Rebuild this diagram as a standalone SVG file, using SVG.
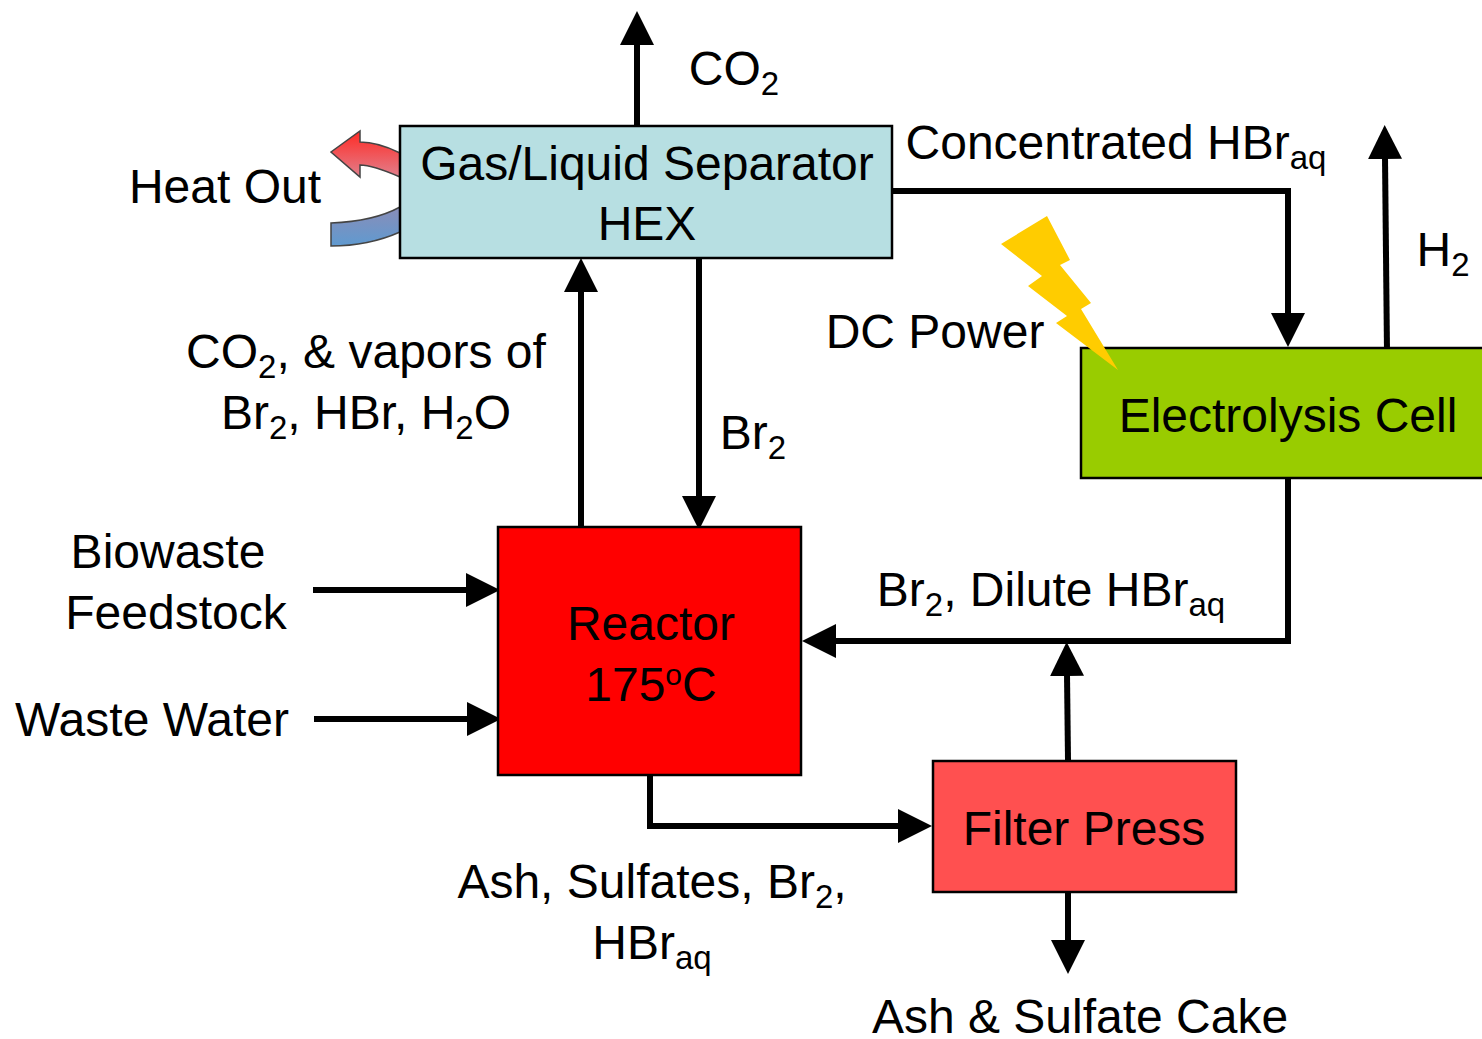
<svg xmlns="http://www.w3.org/2000/svg" width="1482" height="1039" viewBox="0 0 1482 1039">
<style>
text{font-family:"Liberation Sans",Arial,sans-serif;font-size:48px;fill:#000;text-anchor:middle}
.s{font-size:33px}
.b{stroke:#000;stroke-width:2.5px}
.c{fill:none;stroke:#000;stroke-width:6px}
</style>
<defs>
<linearGradient id="r" x1="0" y1="0" x2="0" y2="1"><stop offset="0" stop-color="#ff2a24"/><stop offset="1" stop-color="#e27f8c"/></linearGradient>
<linearGradient id="bl" x1="0" y1="0" x2="0" y2="1"><stop offset="0" stop-color="#8a8db8"/><stop offset="1" stop-color="#5f9ad0"/></linearGradient>
<marker id="a" markerUnits="userSpaceOnUse" markerWidth="36" markerHeight="36" refX="2" refY="17" orient="auto"><path d="M0 0L34 17L0 34Z" fill="#000"/></marker>
</defs>
<g id="connectors">
<path class="c" d="M637 127V43" marker-end="url(#a)"/>
<path class="c" d="M892 191H1288V315" marker-end="url(#a)"/>
<path class="c" d="M1387 352L1385 157" marker-end="url(#a)"/>
<path class="c" d="M581 527V290" marker-end="url(#a)"/>
<path class="c" d="M699 258V498" marker-end="url(#a)"/>
<path class="c" d="M1288 478V641H834" marker-end="url(#a)"/>
<path class="c" d="M1068 760L1067 674" marker-end="url(#a)"/>
<path class="c" d="M313 590H468" marker-end="url(#a)"/>
<path class="c" d="M314 719H469" marker-end="url(#a)"/>
<path class="c" d="M650 775V826H900" marker-end="url(#a)"/>
<path class="c" d="M1068 892V942" marker-end="url(#a)"/>
</g>
<g id="heat-out">
<path d="M400 177C384 170 368 165 360 165L360 177L331 152L360 131L360 142C372 142 388 147 400 153Z" fill="url(#r)" stroke="#444" stroke-width="1.5"/>
<path d="M400 207C380 218 358 222 331 223L331 246C358 246 382 240 400 232Z" fill="url(#bl)" stroke="#444" stroke-width="1.5"/>
<text x="225" y="203">Heat Out</text>
</g>
<g id="separator">
<rect class="b" x="400" y="126" width="492" height="132" fill="#b7dfe2"/>
<text x="647" y="180">Gas/Liquid Separator</text>
<text x="647" y="240">HEX</text>
</g>
<g id="electrolysis">
<rect class="b" x="1081" y="348" width="410" height="130" fill="#99cc00"/>
<text x="1288" y="432">Electrolysis Cell</text>
</g>
<g id="bolt">
<path d="M1001 244L1047 216L1070 260L1060 265L1091 303L1081 309L1118 370L1056 323L1067 316L1028 286L1042 276Z" fill="#ffcc00"/>
</g>
<g id="reactor">
<rect class="b" x="498" y="527" width="303" height="248" fill="#ff0000"/>
<text x="651" y="640">Reactor</text>
<text x="651" y="701">175<tspan font-size="30" dy="-16">o</tspan><tspan dy="16">C</tspan></text>
</g>
<g id="filter-press">
<rect class="b" x="933" y="761" width="303" height="131" fill="#ff5050"/>
<text x="1084" y="845">Filter Press</text>
</g>
<g id="labels">
<text x="734" y="85">CO<tspan class="s" dy="10">2</tspan></text>
<text x="1116" y="159">Concentrated HBr<tspan class="s" dy="10">aq</tspan></text>
<text x="1443" y="266">H<tspan class="s" dy="10">2</tspan></text>
<text x="935" y="348">DC Power</text>
<text x="366" y="368">CO<tspan class="s" dy="10">2</tspan><tspan dy="-10">, &amp; vapors of</tspan></text>
<text x="366" y="429">Br<tspan class="s" dy="10">2</tspan><tspan dy="-10">, HBr, H</tspan><tspan class="s" dy="10">2</tspan><tspan dy="-10">O</tspan></text>
<text x="753" y="449">Br<tspan class="s" dy="10">2</tspan></text>
<text x="168" y="568">Biowaste</text>
<text x="176" y="629">Feedstock</text>
<text x="152" y="736">Waste Water</text>
<text x="1051" y="606">Br<tspan class="s" dy="10">2</tspan><tspan dy="-10">, Dilute HBr</tspan><tspan class="s" dy="10">aq</tspan></text>
<text x="652" y="898">Ash, Sulfates, Br<tspan class="s" dy="10">2</tspan><tspan dy="-10">,</tspan></text>
<text x="652" y="959">HBr<tspan class="s" dy="10">aq</tspan></text>
<text x="1080" y="1033">Ash &amp; Sulfate Cake</text>
</g>
</svg>
